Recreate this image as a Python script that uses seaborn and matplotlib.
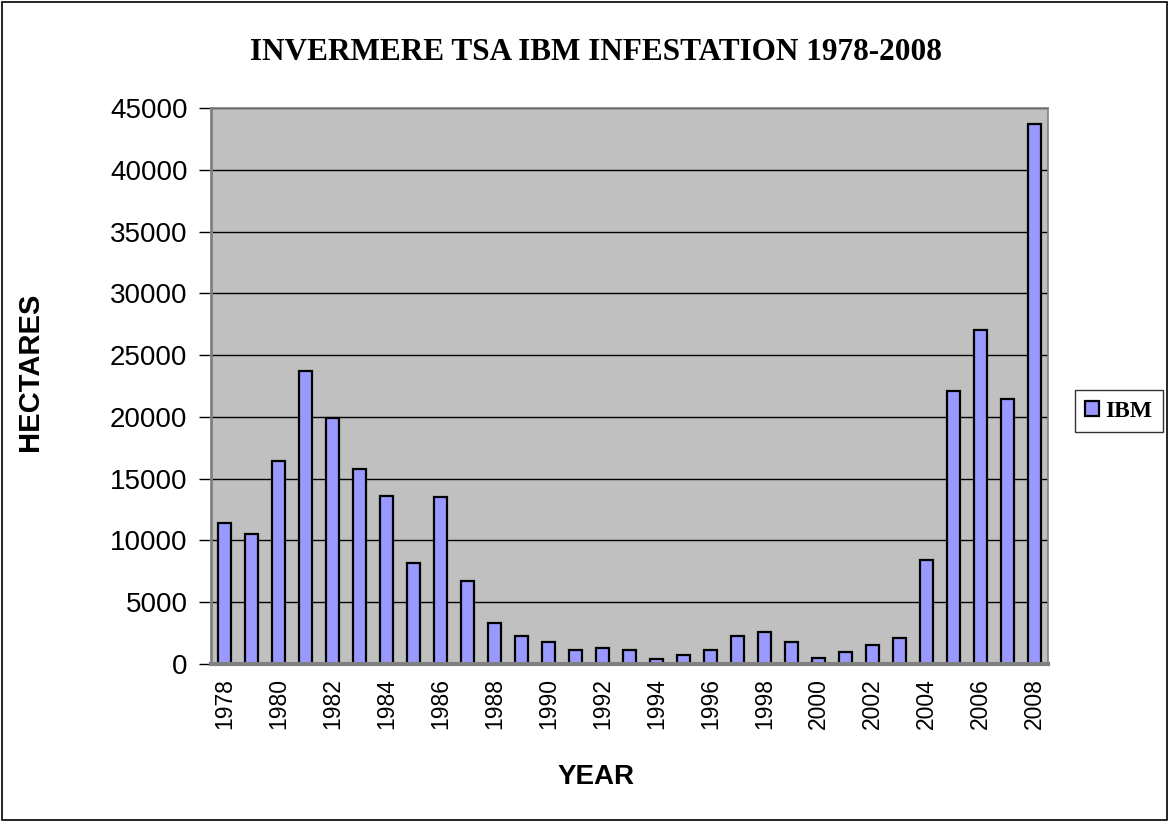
import matplotlib
matplotlib.use("Agg")
import matplotlib.pyplot as plt
import seaborn as sns
import pandas as pd
import numpy as np
from matplotlib.patches import Rectangle

years = list(range(1978, 2009))
hectares = [11400, 10500, 16400, 23700, 19900, 15800, 13600, 8150, 13500, 6700,
            3300, 2300, 1800, 1150, 1300, 1150, 400, 700, 1150, 2300,
            2550, 1800, 500, 950, 1550, 2100, 8450, 22100, 27000, 21450, 43700]
title = "INVERMERE TSA IBM INFESTATION 1978-2008"
series_name = "IBM"
y_ticks = [0, 5000, 10000, 15000, 20000, 25000, 30000, 35000, 40000, 45000]

df = pd.DataFrame({"YEAR": [str(y) for y in years], "HECTARES": hectares})

sns.set_style("white")
plt.rcParams['font.family'] = ['Liberation Sans', 'DejaVu Sans']
plt.rcParams['text.color'] = 'black'
plt.rcParams['xtick.color'] = 'black'
plt.rcParams['ytick.color'] = 'black'
plt.rcParams['axes.labelcolor'] = 'black'

W, H = 1169, 821
fig = plt.figure(figsize=(W / 100, H / 100), dpi=100)
fig.patch.set_facecolor("white")

ax = fig.add_axes([211 / W, 1 - 664 / H, (1048 - 211) / W, (664 - 108) / H])
ax.set_facecolor("#C0C0C0")

sns.barplot(data=df, x="YEAR", y="HECTARES", color="#9999FF", saturation=1,
            edgecolor="black", linewidth=1.6, width=0.45, ax=ax, label=series_name)

ax.set_ylim(0, 45000)
ax.set_xlim(-0.5, len(years) - 0.5)
ax.set_yticks(y_ticks)
ax.set_yticklabels([str(v) for v in y_ticks], fontsize=20)
ax.yaxis.grid(True, color="black", linewidth=1.0)
ax.set_axisbelow(True)

ax.set_xticks(range(len(years)))
ax.set_xticklabels([str(y) if i % 2 == 0 else "" for i, y in enumerate(years)],
                   rotation=90, fontsize=16.5)
ax.set_xticks(np.arange(-0.5, len(years), 1.0), minor=True)
ax.tick_params(axis="x", which="major", length=0, pad=10)
ax.tick_params(axis="x", which="minor", length=8, color="black", width=1)
ax.tick_params(axis="y", which="major", length=9, color="black", width=1, left=True, pad=8)

for s in ["top", "right"]:
    ax.spines[s].set_color("#808080")
    ax.spines[s].set_linewidth(1.2)
ax.spines["left"].set_color("#808080")
ax.spines["left"].set_linewidth(2)
ax.spines["bottom"].set_color("#808080")
ax.spines["bottom"].set_linewidth(3)

ax.set_xlabel("YEAR", fontsize=20, fontweight="bold")
ax.set_ylabel("HECTARES", fontsize=21, fontweight="bold")
ax.yaxis.set_label_coords(-0.2, (664 - 372) / 556)
ax.xaxis.set_label_coords((596 - 211) / 837, -0.18)

fig.text(596 / W, 1 - 52 / H, title, ha="center", va="center", fontsize=22.5,
         fontweight="bold", family=["Liberation Serif", "DejaVu Serif"])

leg = ax.legend(loc="center right", bbox_to_anchor=(1163 / W, 1 - 411 / H),
                bbox_transform=fig.transFigure, frameon=True, fancybox=False,
                prop={"family": "Liberation Serif", "weight": "bold", "size": 17},
                handlelength=0.6, handleheight=0.6, handletextpad=0.25,
                borderpad=0.45, borderaxespad=0)
leg.get_frame().set_edgecolor("black")
leg.get_frame().set_linewidth(1.0)

fig.patches.append(Rectangle((2 / W, 1 / H), 1 - 4 / W, 1 - 3 / H, transform=fig.transFigure,
                             fill=False, edgecolor="black", linewidth=1.2))

fig.savefig("out.png", dpi=100)
